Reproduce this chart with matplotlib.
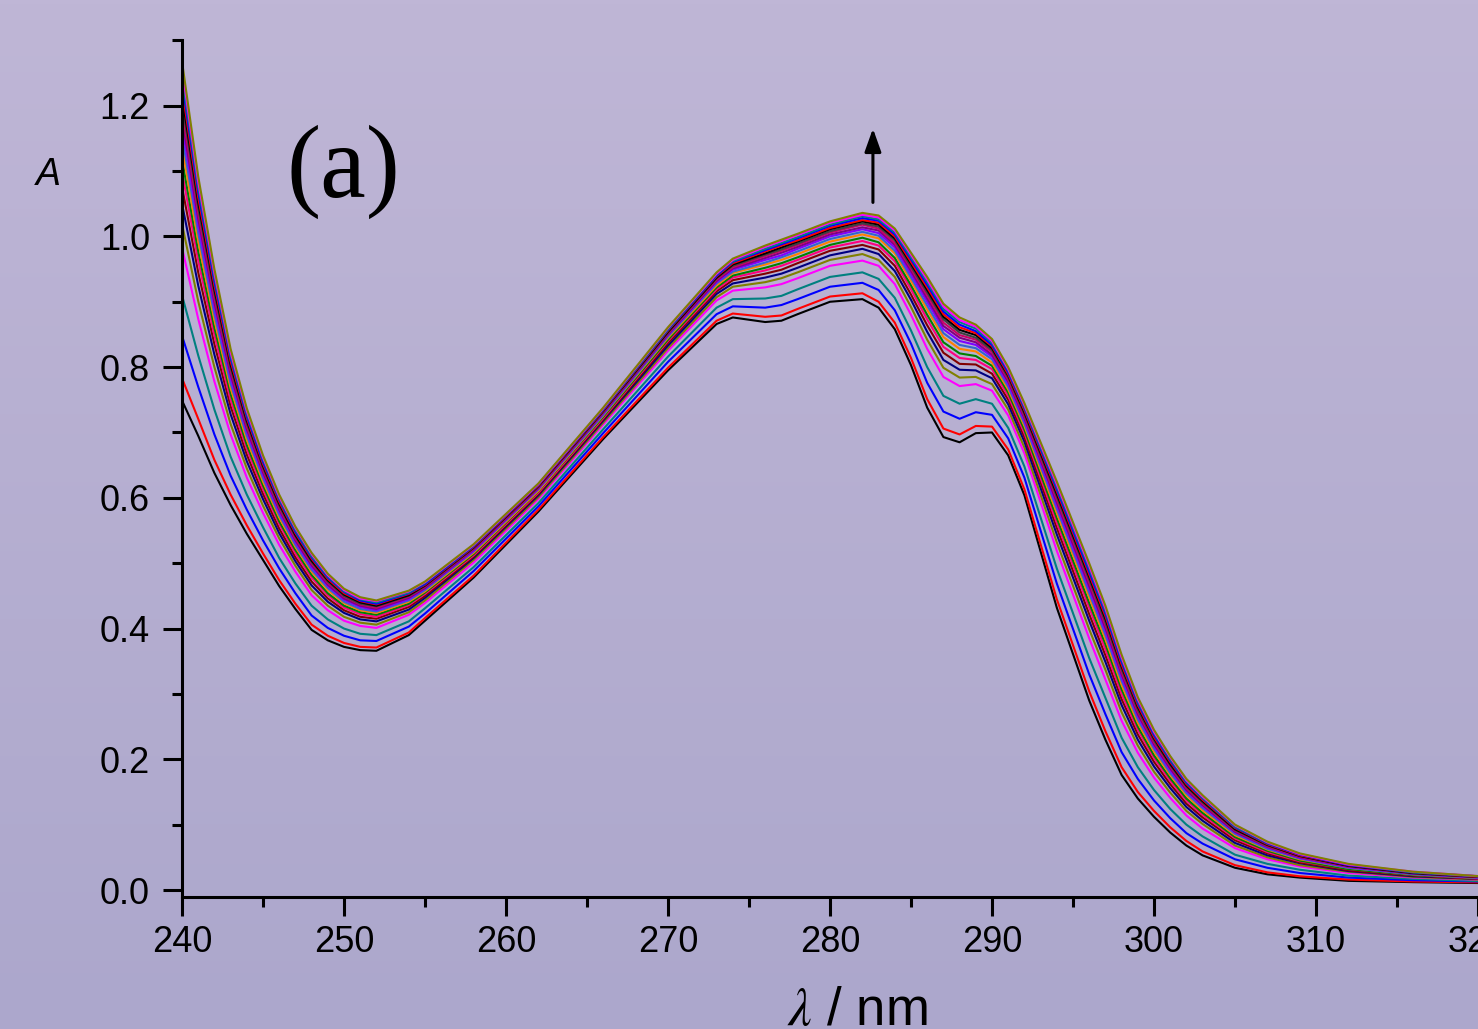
import numpy as np
import matplotlib
matplotlib.use('Agg')
import matplotlib.pyplot as plt
from matplotlib.colors import LinearSegmentedColormap
from matplotlib.ticker import MultipleLocator, FormatStrFormatter

plt.rcParams['font.family'] = 'Liberation Sans'
plt.rcParams['mathtext.fontset'] = 'stix'

wavelength = [240, 241, 242, 243, 244, 245, 246, 247, 248, 249, 250, 251, 252, 254, 255,
              258, 262, 266, 270, 273, 274, 276, 277, 278, 280, 282, 283, 284, 285, 286,
              287, 288, 289, 290, 291, 292, 294, 296, 297, 298, 299, 300, 301, 302, 303,
              305, 307, 309, 312, 316, 322]

# one row per wavelength, 22 spectra of the titration from lowest to highest
absorbance = [
    [.749, .783, .848, .910, .983, 1.019, 1.050, 1.076, 1.099, 1.118, 1.138, 1.154, 1.170, 1.182, 1.195, 1.206, 1.216, 1.227, 1.237, 1.247, 1.258, 1.268],
    [.695, .721, .770, .818, .874, .901, .925, .945, .963, .977, .993, 1.005, 1.017, 1.027, 1.036, 1.044, 1.052, 1.060, 1.068, 1.076, 1.084, 1.092],
    [.638, .658, .697, .735, .778, .800, .819, .835, .849, .860, .872, .881, .891, .899, .906, .913, .919, .925, .931, .938, .944, .950],
    [.589, .605, .634, .663, .697, .713, .728, .740, .750, .759, .768, .775, .783, .789, .795, .799, .804, .809, .814, .818, .823, .828],
    [.545, .558, .582, .605, .631, .645, .656, .666, .675, .681, .689, .695, .701, .705, .710, .714, .718, .722, .725, .729, .733, .737],
    [.505, .515, .535, .555, .577, .588, .598, .606, .613, .619, .625, .630, .635, .639, .643, .646, .649, .652, .655, .659, .662, .665],
    [.465, .474, .492, .508, .528, .538, .546, .553, .560, .564, .570, .574, .578, .582, .585, .588, .591, .594, .597, .599, .602, .605],
    [.430, .438, .454, .469, .487, .496, .503, .509, .515, .520, .525, .528, .532, .535, .538, .541, .543, .546, .548, .551, .554, .556],
    [.398, .406, .420, .435, .451, .459, .466, .472, .478, .482, .487, .490, .494, .497, .500, .502, .504, .507, .509, .511, .514, .516],
    [.382, .389, .401, .414, .428, .435, .441, .446, .451, .454, .459, .462, .465, .467, .470, .472, .474, .476, .478, .480, .482, .484],
    [.372, .378, .389, .400, .412, .418, .424, .428, .432, .435, .439, .441, .444, .446, .449, .450, .452, .454, .456, .457, .459, .461],
    [.367, .372, .382, .392, .404, .409, .414, .418, .422, .425, .428, .430, .433, .435, .437, .438, .440, .442, .443, .445, .446, .448],
    [.366, .371, .381, .390, .401, .406, .411, .415, .418, .421, .424, .426, .428, .430, .432, .434, .435, .437, .438, .440, .442, .443],
    [.390, .394, .403, .411, .421, .425, .429, .433, .436, .438, .441, .443, .445, .447, .449, .450, .451, .453, .454, .455, .457, .458],
    [.412, .416, .423, .431, .439, .443, .447, .450, .453, .455, .457, .459, .461, .462, .464, .465, .466, .467, .468, .470, .471, .472],
    [.478, .481, .488, .494, .501, .505, .508, .510, .512, .514, .516, .518, .519, .521, .522, .523, .524, .525, .526, .527, .528, .529],
    [.579, .582, .587, .592, .598, .601, .604, .606, .608, .610, .611, .613, .614, .615, .616, .617, .618, .619, .620, .621, .621, .622],
    [.690, .693, .699, .705, .712, .715, .718, .720, .722, .724, .726, .727, .729, .730, .731, .732, .733, .734, .735, .736, .737, .738],
    [.795, .799, .808, .816, .825, .829, .833, .837, .840, .842, .845, .847, .849, .850, .852, .853, .854, .856, .857, .858, .860, .861],
    [.866, .871, .881, .891, .902, .907, .912, .916, .919, .922, .925, .928, .930, .932, .934, .936, .937, .939, .940, .942, .943, .945],
    [.876, .882, .893, .904, .917, .923, .928, .933, .937, .940, .944, .946, .949, .951, .953, .955, .957, .959, .961, .962, .964, .966],
    [.869, .877, .891, .905, .922, .930, .937, .943, .948, .952, .957, .960, .964, .967, .970, .972, .974, .977, .979, .981, .984, .986],
    [.871, .879, .895, .909, .927, .936, .943, .949, .955, .959, .964, .968, .971, .975, .978, .980, .983, .986, .988, .990, .993, .995],
    [.881, .889, .904, .919, .936, .945, .952, .959, .964, .968, .973, .977, .981, .984, .987, .989, .992, .994, .997, .999, 1.002, 1.004],
    [.900, .908, .923, .938, .955, .964, .971, .978, .983, .987, .992, .996, 1.000, 1.003, 1.006, 1.008, 1.011, 1.013, 1.016, 1.018, 1.021, 1.023],
    [.904, .913, .929, .945, .963, .973, .981, .987, .993, .998, 1.003, 1.007, 1.011, 1.014, 1.018, 1.020, 1.023, 1.025, 1.028, 1.031, 1.033, 1.036],
    [.891, .900, .918, .935, .955, .964, .973, .980, .986, .991, .997, 1.001, 1.005, 1.009, 1.012, 1.015, 1.018, 1.021, 1.024, 1.026, 1.029, 1.032],
    [.858, .868, .887, .906, .927, .938, .947, .955, .962, .967, .974, .978, .983, .987, .990, .994, .997, 1.000, 1.003, 1.006, 1.009, 1.012],
    [.803, .814, .836, .856, .880, .892, .903, .911, .919, .925, .932, .937, .942, .947, .951, .954, .958, .961, .965, .968, .972, .975],
    [.738, .751, .776, .800, .828, .842, .854, .864, .873, .880, .888, .894, .900, .905, .910, .914, .918, .922, .926, .930, .934, .938],
    [.693, .706, .732, .756, .785, .799, .811, .822, .831, .838, .846, .852, .858, .863, .868, .873, .877, .881, .885, .889, .893, .897],
    [.685, .697, .721, .744, .771, .784, .796, .805, .814, .821, .828, .834, .840, .845, .849, .853, .857, .861, .865, .869, .872, .876],
    [.699, .710, .731, .751, .774, .785, .795, .804, .811, .817, .824, .829, .834, .838, .842, .845, .849, .852, .855, .859, .862, .865],
    [.700, .709, .727, .744, .764, .774, .783, .790, .797, .802, .807, .812, .816, .819, .823, .826, .829, .832, .834, .837, .840, .843],
    [.665, .674, .691, .707, .726, .735, .743, .750, .756, .761, .766, .770, .774, .778, .781, .784, .787, .789, .792, .795, .797, .800],
    [.604, .613, .631, .648, .668, .677, .686, .693, .699, .704, .710, .714, .718, .722, .725, .728, .731, .734, .737, .739, .742, .745],
    [.432, .445, .469, .492, .519, .532, .544, .554, .562, .569, .577, .583, .588, .593, .598, .602, .606, .610, .613, .617, .621, .625],
    [.290, .304, .330, .355, .385, .399, .412, .422, .432, .439, .448, .454, .460, .465, .471, .475, .479, .483, .487, .492, .496, .500],
    [.230, .243, .269, .294, .322, .337, .349, .359, .368, .376, .384, .390, .396, .401, .406, .410, .415, .419, .423, .427, .431, .435],
    [.176, .188, .211, .233, .259, .272, .283, .292, .300, .307, .314, .320, .325, .330, .334, .338, .342, .345, .349, .353, .356, .360],
    [.140, .150, .170, .188, .210, .221, .230, .238, .245, .250, .256, .261, .266, .269, .273, .276, .280, .283, .286, .289, .292, .295],
    [.112, .121, .137, .153, .172, .181, .189, .196, .202, .206, .212, .216, .220, .223, .226, .229, .232, .234, .237, .240, .242, .245],
    [.088, .096, .110, .124, .141, .149, .156, .162, .167, .171, .176, .179, .183, .186, .189, .191, .193, .196, .198, .200, .203, .205],
    [.068, .075, .087, .100, .114, .121, .127, .132, .137, .140, .145, .148, .151, .153, .156, .158, .160, .162, .164, .166, .168, .170],
    [.053, .059, .071, .082, .094, .101, .106, .111, .115, .118, .122, .125, .128, .130, .132, .134, .136, .138, .140, .141, .143, .145],
    [.034, .038, .047, .054, .064, .068, .072, .076, .079, .081, .084, .086, .088, .089, .091, .092, .093, .095, .096, .097, .099, .100],
    [.024, .027, .034, .040, .047, .050, .053, .056, .058, .060, .062, .063, .065, .066, .067, .068, .069, .070, .071, .072, .073, .074],
    [.019, .021, .026, .031, .036, .038, .041, .042, .044, .045, .047, .048, .049, .050, .051, .052, .052, .053, .054, .055, .055, .056],
    [.014, .016, .019, .022, .026, .028, .029, .030, .032, .032, .034, .034, .035, .036, .036, .037, .037, .038, .038, .039, .039, .040],
    [.012, .013, .015, .017, .019, .020, .021, .022, .023, .023, .024, .024, .025, .025, .026, .026, .026, .027, .027, .027, .028, .028],
    [.010, .011, .012, .012, .014, .014, .015, .015, .015, .016, .016, .016, .016, .017, .017, .017, .017, .017, .018, .018, .018, .018],
]

colors = ['#000000', '#FF0000', '#0000FF', '#008080', '#FF00FF', '#808000', '#000080', '#800000',
          '#FF0080', '#008000', '#FF8000', '#3366CC', '#8000FF', '#800080', '#CC0066', '#404040',
          '#000000', '#FF0000', '#0000FF', '#008080', '#FF00FF', '#808000']

W, H = 1478, 1029
fig = plt.figure(figsize=(W / 100, H / 100), dpi=100)

# lavender gradient background
bg = fig.add_axes([0, 0, 1, 1], zorder=-10)
cmap = LinearSegmentedColormap.from_list('bg', ['#BFB6D6', '#ACA7CC'])
bg.imshow(np.linspace(0, 1, 256).reshape(-1, 1), aspect='auto', cmap=cmap,
          extent=[0, 1, 0, 1], origin='upper')
bg.axis('off')

ax = fig.add_axes([182 / W, 132 / H, 1458 / W, 857 / H])
ax.patch.set_alpha(0)

spectra = np.array(absorbance)
for i in range(spectra.shape[1]):
    ax.plot(wavelength, spectra[:, i], color=colors[i], lw=1.5)

ax.set_xlim(240, 330)
ax.set_ylim(-0.0107, 1.3005)
ax.xaxis.set_major_locator(MultipleLocator(10))
ax.xaxis.set_minor_locator(MultipleLocator(5))
ax.yaxis.set_major_locator(MultipleLocator(0.2))
ax.yaxis.set_minor_locator(MultipleLocator(0.1))
ax.yaxis.set_major_formatter(FormatStrFormatter('%.1f'))

for side in ['top', 'right']:
    ax.spines[side].set_visible(False)
for side in ['left', 'bottom']:
    ax.spines[side].set_linewidth(2.2)

ax.tick_params(which='major', direction='out', length=14, width=2.2, labelsize=26)
ax.tick_params(which='minor', direction='out', length=7, width=2.2)
ax.tick_params(axis='x', which='major', pad=6)
ax.tick_params(axis='y', which='major', pad=9)

ax.annotate('', xy=(282.65, 1.165), xytext=(282.65, 1.052),
            arrowprops=dict(arrowstyle='-|>,head_length=0.7,head_width=0.25',
                            color='black', lw=2.2, mutation_scale=20,
                            shrinkA=0, shrinkB=0))

fig.text(48 / W, 1 - 175 / H, 'A', fontsize=27, style='italic', ha='center', va='center')
fig.text(343 / W, 1 - 172 / H, '(a)', fontsize=74, family='Liberation Serif',
         ha='center', va='center')
fig.text(857 / W, 1 - 986 / H, r'$\lambda$ / nm', fontsize=38, ha='center', va='top')

fig.savefig('out.png', dpi=100)
